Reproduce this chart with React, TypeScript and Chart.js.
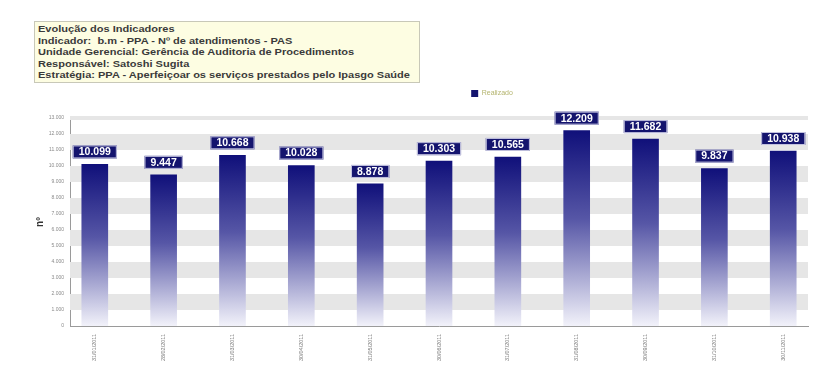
import React, { useEffect, useRef } from "react";
import { Chart, registerables } from "chart.js";

Chart.register(...registerables);

const categories = [
  "31/01/2011", "28/02/2011", "31/03/2011", "30/04/2011", "31/05/2011", "30/06/2011",
  "31/07/2011", "31/08/2011", "30/09/2011", "31/10/2011", "30/11/2011",
];
const realizado = [10099, 9447, 10668, 10028, 8878, 10303, 10565, 12209, 11682, 9837, 10938];
const yTicks = [0, 1000, 2000, 3000, 4000, 5000, 6000, 7000, 8000, 9000, 10000, 11000, 12000, 13000];
const titleLines = [
  "Evolução dos Indicadores",
  "Indicador:  b.m - PPA - Nº de atendimentos - PAS",
  "Unidade Gerencial: Gerência de Auditoria de Procedimentos",
  "Responsável: Satoshi Sugita",
  "Estratégia: PPA - Aperfeiçoar os serviços prestados pelo Ipasgo Saúde",
];

const fmt = (v: number) => v.toLocaleString("de-DE");

const stripes = {
  id: "stripes",
  beforeDatasetsDraw(chart: any) {
    const { ctx, chartArea, scales } = chart;
    const y = scales.y;
    ctx.save();
    ctx.fillStyle = "#e6e6e6";
    for (let v = 1000; v < 13000; v += 2000) {
      const top = y.getPixelForValue(v + 1000);
      const bot = y.getPixelForValue(v);
      ctx.fillRect(chartArea.left, top, chartArea.right - chartArea.left, bot - top);
    }
    const t = y.getPixelForValue(13000);
    ctx.fillRect(chartArea.left, t - 2, chartArea.right - chartArea.left, 4);
    ctx.restore();
  },
};

const valueBoxes = {
  id: "valueBoxes",
  afterDatasetsDraw(chart: any) {
    const { ctx } = chart;
    const meta = chart.getDatasetMeta(0);
    ctx.save();
    ctx.font = "bold 10.5px Arial, 'Liberation Sans', sans-serif";
    ctx.textAlign = "center";
    ctx.textBaseline = "middle";
    meta.data.forEach((el: any, i: number) => {
      const text = fmt(realizado[i]);
      const w = ctx.measureText(text).width + 12;
      const h = 13;
      const cx = el.x;
      const bottom = el.y - 6;
      ctx.fillStyle = "#14146e";
      ctx.fillRect(cx - w / 2, bottom - h, w, h);
      ctx.strokeStyle = "#c4c4e0";
      ctx.lineWidth = 1;
      ctx.strokeRect(cx - w / 2 + 0.5, bottom - h + 0.5, w - 1, h - 1);
      ctx.fillStyle = "#ffffff";
      ctx.fillText(text, cx, bottom - h / 2 + 0.5);
    });
    ctx.restore();
  },
};

const legendShift = {
  id: "legendShift",
  afterLayout(chart: any) {
    const lg = chart.legend;
    if (lg) {
      lg.left += 73;
      lg.right += 73;
      lg.top -= 11;
      lg.bottom -= 11;
    }
  },
};

export default function App() {
  const ref = useRef<HTMLCanvasElement | null>(null);
  useEffect(() => {
    if (!ref.current) return;
    const chart = new Chart(ref.current, {
      type: "bar",
      data: {
        datasets: [
          {
            label: "Realizado",
            data: realizado.map((v, i) => ({ x: i, y: v })),
            barThickness: 26,
            backgroundColor: (c: any) => {
              const ch = c.chart;
              const area = ch.chartArea;
              if (!area || !ch.scales || !ch.scales.y || c.type !== "data") return "#14146e";
              const v = c.raw ? c.raw.y : 0;
              const top = ch.scales.y.getPixelForValue(v);
              const g = ch.ctx.createLinearGradient(0, top, 0, area.bottom);
              g.addColorStop(0, "#10107a");
              g.addColorStop(0.45, "#5656a6");
              g.addColorStop(1, "#f2f2fa");
              return g;
            },
            borderWidth: 0,
          } as any,
        ],
      },
      options: {
        animation: false,
        responsive: false,
        maintainAspectRatio: false,
        parsing: false as any,
        layout: { padding: { top: 84, right: 19, bottom: 2, left: 30 } },
        plugins: {
          legend: {
            display: true,
            position: "top",
            labels: {
              boxWidth: 7,
              boxHeight: 7,
              padding: 17,
              color: "#b4b46e",
              font: { size: 7, family: "Arial, 'Liberation Sans', sans-serif" },
              generateLabels: () => [
                {
                  text: "Realizado",
                  fillStyle: "#14146e",
                  strokeStyle: "#14146e",
                  fontColor: "#b4b46e",
                  lineWidth: 0,
                  hidden: false,
                  datasetIndex: 0,
                } as any,
              ],
            },
          },
          tooltip: { enabled: false },
        },
        scales: {
          x: {
            type: "linear",
            offset: false,
            min: -0.36,
            max: 10.36,
            afterBuildTicks: (s: any) => {
              s.ticks = categories.map((_, i) => ({ value: i }));
            },
            afterFit: (s: any) => {
              s.height = 39;
            },
            grid: { display: false, offset: false, drawTicks: true, tickLength: 3, color: "#999" },
            border: { display: true, color: "#9a9a9a", width: 1 },
            ticks: {
              autoSkip: false,
              maxRotation: 90,
              minRotation: 90,
              padding: 5,
              color: "#7a7a7a",
              font: { size: 5.5, family: "Arial, 'Liberation Sans', sans-serif" },
              callback: (v: any) => categories[Math.round(Number(v))] ?? "",
            },
          },
          y: {
            min: 0,
            max: 13000,
            afterBuildTicks: (s: any) => {
              s.ticks = yTicks.map((v) => ({ value: v }));
            },
            afterFit: (s: any) => {
              s.width = 40;
            },
            grid: { display: false, drawTicks: true, tickLength: 3, color: "#999" },
            border: { display: true, color: "#9a9a9a", width: 1 },
            title: {
              display: true,
              text: "nº",
              color: "#333",
              font: { size: 10, weight: "bold", family: "Arial, 'Liberation Sans', sans-serif" },
              padding: { top: 4, bottom: 6 },
            },
            ticks: {
              color: "#8a8a8a",
              padding: 3,
              font: { size: 5, family: "Arial, 'Liberation Sans', sans-serif" },
              callback: (v: any) => fmt(Number(v)),
            },
          },
        },
      },
      plugins: [stripes, valueBoxes, legendShift],
    });
    return () => chart.destroy();
  }, []);

  return (
    <div style={{ position: "fixed", left: 0, top: 0, width: 827, height: 367, background: "#fff", overflow: "hidden" }}>
      <canvas ref={ref} width={827} height={367} style={{ position: "absolute", left: 0, top: 0, width: 827, height: 367 }} />
      <div
        style={{
          position: "absolute",
          left: 34,
          top: 21,
          width: 386,
          height: 62,
          background: "#fdfde2",
          border: "1px solid #c8c8b8",
          boxSizing: "border-box",
          overflow: "hidden",
        }}
      >
        <div
          style={{
            position: "absolute",
            left: 3,
            top: 1,
            transform: "scaleX(1.16)",
            transformOrigin: "left top",
            fontFamily: "Arial, 'Liberation Sans', sans-serif",
            fontWeight: "bold",
            fontSize: 9.5,
            lineHeight: "11.6px",
            color: "#3a3a3a",
            whiteSpace: "pre",
          }}
        >
          {titleLines.map((t, i) => (
            <div key={i}>{t}</div>
          ))}
        </div>
      </div>
    </div>
  );
}
